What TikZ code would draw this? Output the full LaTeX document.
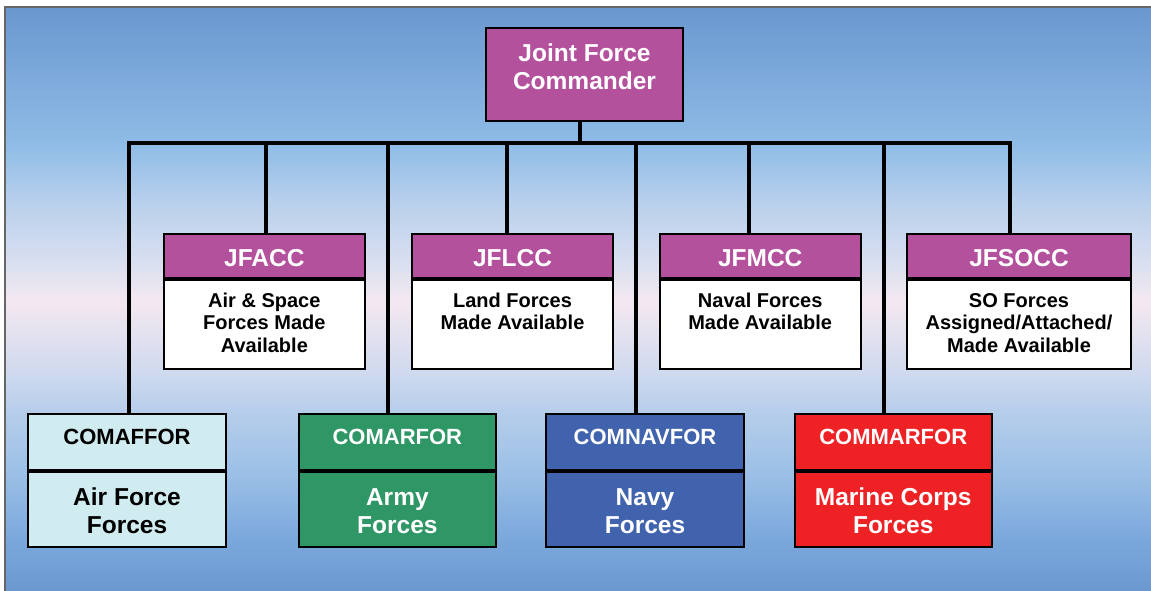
\documentclass[tikz,border=0pt]{standalone}
\usepackage{fontspec}
\setmainfont{Liberation Sans}
\usetikzlibrary{positioning}
\definecolor{skydeep}{HTML}{6A97CF}
\definecolor{skyA}{HTML}{7DAADD}
\definecolor{skyB}{HTML}{9CC0E6}
\definecolor{skyC}{HTML}{B5CDEA}
\definecolor{skyD}{HTML}{D0DAEE}
\definecolor{skyE}{HTML}{F4E8F0}
\definecolor{skyF}{HTML}{D8DFF0}
\definecolor{skyG}{HTML}{B8D0EC}
\definecolor{skyH}{HTML}{8EBCE6}
\definecolor{jfpurple}{HTML}{B4519D}
\definecolor{afcyan}{HTML}{D0ECF0}
\definecolor{armygreen}{HTML}{2F9665}
\definecolor{navyblue}{HTML}{4163AE}
\definecolor{marinered}{HTML}{EE2224}
\pgfdeclareverticalshading{slide}{100bp}{color(0bp)=(skydeep); color(25bp)=(skydeep);
  color(30.1bp)=(skyA); color(35.3bp)=(skyB); color(40.3bp)=(skyC); color(43.9bp)=(skyD);
  color(49.9bp)=(skyE); color(53.3bp)=(skyF); color(58.4bp)=(skyG); color(63.3bp)=(skyH);
  color(75bp)=(skydeep); color(100bp)=(skydeep)}
\tikzset{
  box/.style={draw=black, line width=2pt, inner sep=0pt, align=center},
  jfc box/.style={box, fill=jfpurple, text=white, minimum width=197pt, minimum height=93pt,
    font=\fontsize{24.5}{28}\selectfont\bfseries, text height=30pt, text depth=1pt},
  comp head/.style={box, fill=jfpurple, text=white, minimum width=#1, minimum height=43.8pt,
    font=\fontsize{24.5}{28}\selectfont\bfseries, text height=24pt, text depth=1.8pt},
  comp head/.default=201.3pt,
  comp body/.style={box, fill=white, minimum width=#1, minimum height=89.2pt,
    font=\fontsize{20}{22.5}\selectfont\bfseries, text height=59pt, text depth=2.6pt},
  comp body/.default=201.3pt,
  two lines/.style={text height=38pt, text depth=27.2pt},
  svc head/.style={box, fill=#1, minimum width=197.4pt, minimum height=56.3pt,
    font=\fontsize{22}{26}\selectfont\bfseries, text height=20pt, text depth=15.1pt},
  svc body/.style={box, fill=#1, minimum width=197.4pt, minimum height=74.7pt,
    font=\fontsize{24.5}{28.4}\selectfont\bfseries, text height=49pt, text depth=0.3pt},
  link/.style={line width=4pt},
}

\begin{document}
\begin{tikzpicture}[x=1pt,y=-1pt]
  \useasboundingbox (0,0) rectangle (1151,590);

  % Background
  \shade[shading=slide] (5,7) rectangle (1153,593);
  \draw[black!60, line width=1.5pt] (5,593) -- (5,7) -- (1153,7);

  % Commander
  \node[jfc box] (jfc) at (584.5,74.5) {Joint Force\\Commander};

  % Component commanders
  \node[comp head] (jfacch) at (264.35,255.6) {JFACC};
  \node[comp body, below=0pt of jfacch] (jfaccb) {Air \& Space\\Forces Made\\Available};
  \node[comp head] (jflcch) at (512.5,255.6) {JFLCC};
  \node[comp body, two lines, below=0pt of jflcch] (jflccb) {Land Forces\\Made Available};
  \node[comp head] (jfmcch) at (760.2,255.6) {JFMCC};
  \node[comp body, two lines, below=0pt of jfmcch] (jfmccb) {Naval Forces\\Made Available};
  \node[comp head=224pt] (jfsocch) at (1019,255.6) {JFSOCC};
  \node[comp body=224pt, below=0pt of jfsocch] (jfsoccb) {SO Forces\\Assigned/Attached/\\Made Available};

  % Service components
  \node[svc head=afcyan] (comafforh) at (127,441.85) {COMAFFOR};
  \node[svc body=afcyan, below=0pt of comafforh] (comafforb) {Air Force\\Forces};
  \node[svc head=armygreen, text=white] (comarforh) at (397.35,441.85) {COMARFOR};
  \node[svc body=armygreen, text=white, below=0pt of comarforh] (comarforb) {Army\\Forces};
  \node[svc head=navyblue, text=white] (comnavforh) at (645,441.85) {COMNAVFOR};
  \node[svc body=navyblue, text=white, below=0pt of comnavforh] (comnavforb) {Navy\\Forces};
  \node[svc head=marinered, text=white] (commarforh) at (893.2,441.85) {COMMARFOR};
  \node[svc body=marinered, text=white, below=0pt of commarforh] (commarforb) {Marine Corps\\Forces};

  % Bus
  \coordinate (bus) at (580,143);
  \foreach \x [count=\i] in {128.5,266,388,507,635.8,749,884,1009.5}
    \coordinate (drop\i) at (\x,143);
  \draw[link] (bus |- jfc.south) -- (bus);
  \draw[link, line cap=rect] (drop1) -- (drop8);
  \foreach \n [count=\i] in {comafforh,jfacch,comarforh,jflcch,comnavforh,jfmcch,commarforh,jfsocch}
    \draw[link] (drop\i) -- (drop\i |- \n.north);
\end{tikzpicture}
\end{document}
